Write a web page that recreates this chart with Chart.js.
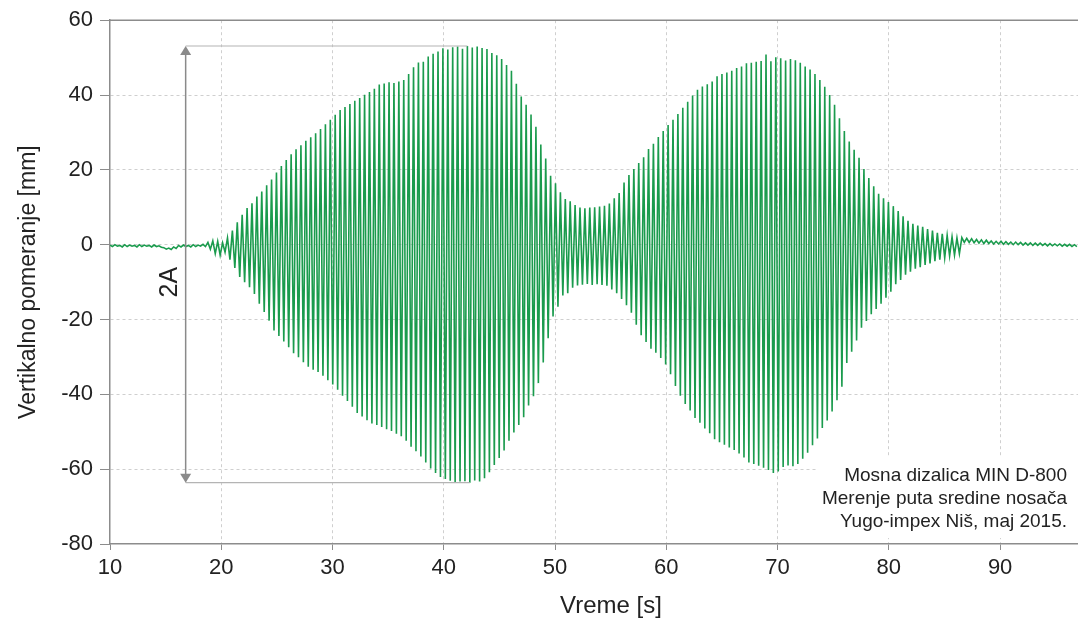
<!DOCTYPE html>
<html>
<head>
<meta charset="utf-8">
<script src="https://cdn.jsdelivr.net/npm/chart.js@4/dist/chart.umd.min.js"></script>
<style>
  html, body { margin: 0; padding: 0; background: #ffffff; }
  canvas { display: block; }
</style>
</head>
<body>
<canvas id="chart" width="1078" height="621"></canvas>
<script>
// Vertical displacement of the crane girder midspan, one (max, min) pair per oscillation cycle
const startTime = 10;       // s, time of the first recorded cycle
const cyclePeriod = 0.44;   // s, sampling of one oscillation cycle

// positive peak of each cycle [mm]
const upperPeaks = [
  // before the load starts moving
  -0.1, 0.0, -0.2, 0.0, -0.1, -0.2, 0.0, -0.1, -0.2, -0.1,
  -0.3, -0.8, -0.9, -0.6, -0.2, -0.1, -0.2, 0.0, -0.1, 0.1,
  // forced oscillation
  0.6, 1.0, 0.9, 0.5, 1.8, 3.8, 6.0, 8.0, 9.8, 11.1,
  12.9, 14.2, 15.9, 17.4, 19.3, 21.0, 22.6, 24.2, 25.5, 26.6,
  27.8, 28.7, 29.8, 30.9, 32.2, 33.4, 34.7, 36.0, 36.8, 37.6,
  38.5, 39.2, 40.1, 40.8, 41.7, 42.8, 43.1, 43.4, 43.2, 43.6,
  44.0, 45.6, 47.4, 48.7, 48.9, 50.3, 51.0, 51.6, 52.5, 52.2,
  52.8, 53.0, 52.4, 53.1, 52.7, 53.0, 52.6, 52.3, 51.2, 50.6,
  49.6, 48.0, 46.5, 43.0, 39.6, 37.4, 34.8, 31.5, 26.8, 23.0,
  18.4, 16.4, 14.0, 12.2, 11.6, 10.6, 9.9, 9.7, 9.9, 10.0,
  10.2, 10.4, 11.0, 12.4, 13.8, 16.6, 18.6, 20.2, 21.8, 23.4,
  25.6, 27.0, 28.8, 30.4, 32.0, 33.4, 34.9, 36.6, 38.2, 39.9,
  41.4, 42.3, 42.9, 43.6, 45.0, 45.6, 46.0, 46.5, 47.2, 47.6,
  48.5, 48.6, 48.9, 49.1, 50.8, 49.0, 50.1, 49.8, 49.2, 49.6,
  49.3, 48.6, 47.6, 46.8, 45.6, 44.0, 42.2, 40.0, 37.4, 33.8,
  30.4, 27.6, 25.4, 23.2, 20.2, 17.8, 15.6, 13.6, 12.4, 11.4,
  10.3, 9.0, 7.6, 6.4, 5.6, 5.1, 4.8, 4.2, 3.8, 3.2,
  2.9, 2.5, 2.1, 1.8,
  // free decay
  1.9, 1.7, 1.6, 1.4, 1.3, 1.2, 1.0, 0.9, 0.9, 0.8,
  0.7, 0.7, 0.6, 0.5, 0.5, 0.4, 0.4, 0.3, 0.3, 0.2,
  0.2, 0.1, 0.1, 0.0
];

// negative peak of each cycle [mm]
const lowerPeaks = [
  -0.5, -0.4, -0.6, -0.5, -0.4, -0.6, -0.5, -0.4, -0.6, -0.5,
  -0.7, -1.2, -1.3, -1.0, -0.6, -0.5, -0.6, -0.5, -0.4, -0.5,
  -1.2, -2.4, -2.8, -2.0, -4.0, -6.2, -8.6, -10.0, -11.4, -13.2,
  -15.8, -18.0, -20.3, -22.9, -24.4, -25.9, -27.4, -29.0, -30.1, -31.4,
  -32.6, -33.4, -34.0, -35.0, -36.2, -37.4, -38.8, -40.4, -41.8, -43.3,
  -45.0, -45.9, -46.9, -47.8, -48.2, -48.7, -49.3, -49.8, -50.5, -51.2,
  -52.4, -54.0, -55.2, -56.6, -58.2, -59.8, -61.0, -62.1, -62.6, -63.1,
  -63.4, -63.3, -63.2, -63.6, -63.0, -63.3, -62.4, -60.8, -58.9, -57.0,
  -55.0, -52.4, -50.2, -48.2, -46.1, -43.0, -40.5, -37.0, -31.5, -25.0,
  -19.2, -16.6, -13.6, -13.0, -11.5, -10.9, -10.7, -10.5, -10.8, -10.6,
  -10.8, -11.0, -12.0, -13.0, -14.5, -16.2, -18.2, -21.4, -24.2, -26.0,
  -27.8, -28.9, -30.3, -32.0, -34.6, -37.8, -40.4, -42.6, -44.3, -46.3,
  -47.6, -49.1, -50.4, -52.0, -52.8, -53.5, -54.2, -54.9, -55.8, -56.9,
  -58.2, -58.6, -59.1, -59.6, -60.2, -61.0, -60.6, -59.4, -59.0, -59.2,
  -58.6, -57.2, -55.6, -53.6, -51.8, -49.0, -47.0, -44.6, -41.6, -38.0,
  -31.6, -28.6, -25.6, -22.2, -20.4, -18.6, -17.2, -15.8, -14.2, -12.6,
  -10.6, -9.4, -8.0, -7.2, -6.4, -6.0, -5.4, -5.0, -4.4, -4.0,
  -3.5, -3.0, -2.8, -2.4,
  0.6, 0.6, 0.5, 0.4, 0.3, 0.3, 0.2, 0.2, 0.1, 0.1,
  0.0, 0.0, -0.1, -0.1, -0.2, -0.2, -0.2, -0.3, -0.3, -0.3,
  -0.4, -0.4, -0.5, -0.5
];

const xTickValues = [10, 20, 30, 40, 50, 60, 70, 80, 90];
const yTickValues = [60, 40, 20, 0, -20, -40, -60, -80];
const xRange = [10, 97];
const yRange = [-80, 60];

const xTitle = 'Vreme [s]';
const yTitle = 'Vertikalno pomeranje [mm]';
const noteLines = ['Mosna dizalica MIN D-800', 'Merenje puta sredine nosača', 'Yugo-impex Niš, maj 2015.'];
const amplitudeLabel = '2A';
const amplitudeMarkerTime = 16.8;   // s, position of the double-amplitude arrow
const amplitudeLabelLevel = -10;    // mm, where the "2A" text sits along the arrow

// build the trace: each cycle contributes its positive and negative peak
const trace = [];
upperPeaks.forEach((hi, i) => {
  const t = startTime + i * cyclePeriod;
  trace.push({ x: t, y: hi });
  trace.push({ x: t + cyclePeriod / 2, y: lowerPeaks[i] });
});

const FONT = '"Liberation Sans", Arial, Helvetica, sans-serif';
const AXIS_GRAY = '#8c8c8c';
const GRID_GRAY = '#cfcfcf';
const TEXT = '#222222';

const decorations = {
  id: 'decorations',
  beforeDatasetsDraw(chart) {
    const { ctx, chartArea } = chart;
    // white panel behind the measurement note
    ctx.save();
    ctx.fillStyle = '#ffffff';
    ctx.fillRect(816, 457, chartArea.right - 816, 81);
    ctx.restore();
  },
  afterDatasetsDraw(chart) {
    const { ctx, chartArea, scales: { x, y } } = chart;
    ctx.save();

    // top frame line
    ctx.strokeStyle = AXIS_GRAY;
    ctx.lineWidth = 1.5;
    ctx.beginPath();
    ctx.moveTo(chartArea.left, chartArea.top);
    ctx.lineTo(chartArea.right, chartArea.top);
    ctx.stroke();

    // double amplitude marker between the extreme peaks
    let iMax = 0, iMin = 0;
    trace.forEach((p, i) => {
      if (p.y > trace[iMax].y) iMax = i;
      if (p.y < trace[iMin].y) iMin = i;
    });
    const xm = x.getPixelForValue(amplitudeMarkerTime);
    const yTop = y.getPixelForValue(trace[iMax].y);
    const yBot = y.getPixelForValue(trace[iMin].y);

    ctx.strokeStyle = '#b4b4b4';
    ctx.lineWidth = 1.2;
    ctx.beginPath();
    ctx.moveTo(xm, yTop);
    ctx.lineTo(x.getPixelForValue(trace[iMax].x), yTop);
    ctx.moveTo(xm, yBot);
    ctx.lineTo(x.getPixelForValue(trace[iMin].x), yBot);
    ctx.stroke();

    ctx.strokeStyle = '#8a8a8a';
    ctx.lineWidth = 1.5;
    ctx.beginPath();
    ctx.moveTo(xm, yTop + 6);
    ctx.lineTo(xm, yBot - 6);
    ctx.stroke();

    ctx.fillStyle = '#8a8a8a';
    ctx.beginPath();
    ctx.moveTo(xm, yTop);
    ctx.lineTo(xm - 5.5, yTop + 9);
    ctx.lineTo(xm + 5.5, yTop + 9);
    ctx.closePath();
    ctx.fill();
    ctx.beginPath();
    ctx.moveTo(xm, yBot);
    ctx.lineTo(xm - 5.5, yBot - 9);
    ctx.lineTo(xm + 5.5, yBot - 9);
    ctx.closePath();
    ctx.fill();

    ctx.fillStyle = TEXT;
    ctx.font = '25px ' + FONT;
    ctx.textAlign = 'center';
    ctx.textBaseline = 'middle';
    ctx.translate(xm - 16, y.getPixelForValue(amplitudeLabelLevel));
    ctx.rotate(-Math.PI / 2);
    ctx.fillText(amplitudeLabel, 0, 0);
    ctx.restore();

    // measurement note
    ctx.save();
    ctx.fillStyle = TEXT;
    ctx.font = '19px ' + FONT;
    ctx.textAlign = 'right';
    ctx.textBaseline = 'middle';
    noteLines.forEach((line, i) => {
      ctx.fillText(line, chartArea.right - 11, 476 + i * 23);
    });
    ctx.restore();

    // x axis title
    ctx.save();
    ctx.fillStyle = TEXT;
    ctx.font = '24px ' + FONT;
    ctx.textAlign = 'center';
    ctx.textBaseline = 'middle';
    ctx.fillText(xTitle, 611, 606);
    ctx.restore();
  }
};

new Chart(document.getElementById('chart'), {
  type: 'line',
  data: {
    datasets: [{
      data: trace,
      borderColor: '#1a9b4d',
      borderWidth: 1.6,
      pointRadius: 0,
      tension: 0,
      fill: false
    }]
  },
  options: {
    responsive: false,
    animation: false,
    parsing: false,
    normalized: true,
    layout: { padding: { top: 20, left: 0, right: 0, bottom: 0 } },
    plugins: { legend: { display: false }, tooltip: { enabled: false } },
    scales: {
      x: {
        type: 'linear',
        min: xRange[0],
        max: xRange[1],
        afterBuildTicks: s => { s.ticks = xTickValues.map(v => ({ value: v })); },
        afterFit: s => { s.height = 77; },
        ticks: {
          color: TEXT,
          font: { family: FONT, size: 22 },
          padding: 5,
          maxRotation: 0
        },
        grid: {
          color: c => (c.tick && c.tick.value === xRange[0]) ? 'rgba(0,0,0,0)' : GRID_GRAY,
          lineWidth: 1,
          tickColor: AXIS_GRAY,
          tickLength: 6,
          tickBorderDash: []
        },
        border: { color: AXIS_GRAY, width: 1.5, dash: [3, 3] },
        title: { display: false }
      },
      y: {
        type: 'linear',
        min: yRange[0],
        max: yRange[1],
        afterBuildTicks: s => { s.ticks = yTickValues.map(v => ({ value: v })); },
        afterFit: s => { s.width = 110; },
        ticks: {
          color: TEXT,
          font: { family: FONT, size: 22 },
          padding: 7
        },
        grid: {
          color: c => (c.tick && (c.tick.value === yRange[0] || c.tick.value === yRange[1])) ? 'rgba(0,0,0,0)' : GRID_GRAY,
          lineWidth: 1,
          tickColor: AXIS_GRAY,
          tickLength: 10,
          tickBorderDash: []
        },
        border: { color: AXIS_GRAY, width: 1.5, dash: [3, 3] },
        title: {
          display: true,
          text: yTitle,
          color: TEXT,
          font: { family: FONT, size: 23 },
          padding: { top: 15, bottom: 0 }
        }
      }
    }
  },
  plugins: [decorations]
});
</script>
</body>
</html>
